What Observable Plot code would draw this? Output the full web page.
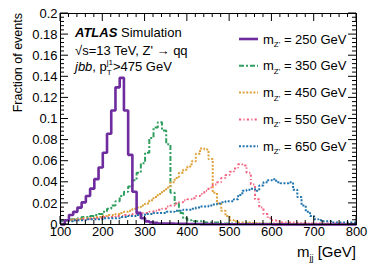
<!DOCTYPE html>
<html><head><meta charset="utf-8">
<script src="https://cdn.jsdelivr.net/npm/d3@7"></script>
<script src="https://cdn.jsdelivr.net/npm/@observablehq/plot@0.6"></script>
<style>
html,body{margin:0;padding:0;background:#fff;}
#chart svg{display:block;}
</style></head><body><div id="chart"></div>
<script>
// lower edges of the 10 GeV bins, 100..790 GeV
const binLow = d3.range(100, 800, 10);
const binHigh = 800;

const mZ250 = [0.000,0.004,0.009,0.012,0.016,0.021,0.027,0.034,0.043,0.054,
  0.068,0.086,0.108,0.130,0.139,0.108,0.066,0.031,0.011,0.006,
  0.003,0.002,0.0015,0.001,0.001,0.001,0.0008,0.0007,0.0006,0.0006,
  0.0005,0.0005,0.0005,0.0004,0.0004,0.0004,0.0004,0.0003,0.0003,0.0003,
  0.0003,0.0003,0.0003,0.0002,0.0002,0.0002,0.0002,0.0002,0.0002,0.0002,
  0.0001,0.0001,0.0001,0.0001,0,0,0,0,0,0,
  0,0,0,0,0,0,0,0,0,0];
const mZ350 = [0.004,0.004,0.005,0.005,0.006,0.007,0.007,0.008,0.009,0.010,
  0.012,0.015,0.018,0.022,0.027,0.031,0.036,0.042,0.049,0.058,
  0.068,0.082,0.092,0.097,0.089,0.076,0.030,0.020,0.011,0.006,
  0.004,0.003,0.003,0.003,0.002,0.002,0.002,0.002,0.001,0.001,
  0.001,0.001,0.001,0.001,0.001,0.001,0.0008,0.0008,0.0006,0.0006,
  0.0005,0.0005,0.0005,0.0004,0.0004,0.0004,0.0003,0.0003,0.0003,0.0003,
  0.0002,0.0002,0.0002,0.0002,0.0002,0.0002,0.0002,0.0002,0.0002,0.0002];
const mZ450 = [0.003,0.004,0.004,0.005,0.005,0.006,0.006,0.006,0.007,0.007,
  0.008,0.009,0.009,0.010,0.011,0.012,0.013,0.015,0.016,0.018,
  0.020,0.023,0.026,0.029,0.032,0.035,0.040,0.044,0.049,0.052,
  0.055,0.060,0.067,0.072,0.071,0.062,0.030,0.020,0.013,0.008,
  0.004,0.003,0.002,0.002,0.002,0.0015,0.0015,0.001,0.001,0.001,
  0.001,0.001,0.001,0.0008,0.0008,0.0008,0.0008,0.0007,0.0007,0.0007,
  0.0006,0.0006,0.0006,0.0006,0.0005,0.0005,0.0005,0.0005,0.0005,0.0005];
const mZ550 = [0.003,0.003,0.004,0.004,0.005,0.005,0.005,0.006,0.006,0.006,
  0.007,0.007,0.007,0.008,0.008,0.009,0.009,0.010,0.010,0.011,
  0.011,0.012,0.013,0.014,0.015,0.017,0.018,0.020,0.021,0.023,
  0.024,0.025,0.027,0.029,0.032,0.035,0.038,0.040,0.044,0.047,
  0.050,0.053,0.057,0.056,0.049,0.038,0.024,0.016,0.010,0.006,
  0.004,0.003,0.002,0.002,0.002,0.002,0.0015,0.0015,0.001,0.001,
  0.001,0.001,0.001,0.001,0.001,0.001,0.001,0.001,0.001,0.001];
const mZ650 = [0.003,0.003,0.003,0.004,0.004,0.004,0.005,0.005,0.005,0.005,
  0.006,0.006,0.006,0.006,0.007,0.007,0.008,0.008,0.009,0.009,
  0.010,0.010,0.011,0.011,0.011,0.012,0.012,0.013,0.013,0.014,
  0.014,0.015,0.016,0.017,0.017,0.018,0.019,0.020,0.021,0.022,
  0.022,0.024,0.028,0.032,0.033,0.034,0.032,0.037,0.040,0.042,
  0.043,0.040,0.039,0.039,0.040,0.033,0.026,0.018,0.012,0.008,
  0.005,0.004,0.003,0.003,0.002,0.002,0.002,0.002,0.002,0.002];

const massLabels = ["250", "350", "450", "550", "650"];
const seriesValues = [mZ250, mZ350, mZ450, mZ550, mZ650];
const seriesColors = ["#6e2c9e", "#2f9e5f", "#dea13a", "#f2637f", "#1f74ad"];
const seriesWidths = [2.6, 2, 2, 2, 2];
const seriesDash = [null, "5,2,2,2", "2,1.6", "2.2,2.2,1.2,2.2", "2,1.6"];

const xTicks = [100, 200, 300, 400, 500, 600, 700, 800];
const yTicks = [0, 0.02, 0.04, 0.06, 0.08, 0.1, 0.12, 0.14, 0.16, 0.18, 0.2];

const FONT = '"Liberation Sans", Arial, Helvetica, sans-serif';

function rowsFor(i) {
  const v = seriesValues[i];
  const r = binLow.map((x, k) => ({x, y: v[k]}));
  r.push({x: binHigh, y: v[v.length - 1]});
  return r;
}

const order = [1, 2, 3, 4, 0];
const chart = Plot.plot({
  width: 374, height: 268,
  marginLeft: 60, marginRight: 18, marginTop: 13, marginBottom: 44,
  x: {domain: [100, 800]},
  y: {domain: [0, 0.2]},
  style: {fontFamily: FONT, fontSize: "13px", color: "#000", background: "#fff", overflow: "visible"},
  marks: [
    ...order.map(i => Plot.line(rowsFor(i), {
      x: "x", y: "y", curve: "step-after",
      stroke: seriesColors[i], strokeWidth: seriesWidths[i],
      strokeDasharray: seriesDash[i], strokeLinejoin: "miter", strokeLinecap: "butt"
    })),
    Plot.frame({stroke: "#000", strokeWidth: 1}),
    Plot.axisX({ticks: xTicks, tickSize: 0, tickPadding: 2, tickFormat: d => String(d), label: null, fontSize: 13}),
    Plot.axisY({ticks: yTicks, tickSize: 0, tickPadding: 3, tickFormat: d => d === 0 ? "0" : String(+d.toFixed(2)), label: null, fontSize: 13})
  ]
});
document.getElementById("chart").appendChild(chart);

const svg = d3.select(chart);
const sx = chart.scale("x"), sy = chart.scale("y");
const X0 = sx.apply(100), X1 = sx.apply(800), Y0 = sy.apply(0), Y1 = sy.apply(0.2);

// inward ATLAS-style ticks on all four sides
const g = svg.append("g").attr("stroke", "#000").attr("stroke-width", 1);
const major = 8, minor = 4;
d3.range(100, 801, 20).forEach(v => {
  const px = sx.apply(v), len = (v % 100 === 0) ? major : minor;
  g.append("line").attr("x1", px).attr("x2", px).attr("y1", Y0).attr("y2", Y0 - len);
  g.append("line").attr("x1", px).attr("x2", px).attr("y1", Y1).attr("y2", Y1 + len);
});
d3.range(0, 51).forEach(k => {
  const v = k * 0.004, py = sy.apply(v), len = (k % 5 === 0) ? major : minor;
  g.append("line").attr("x1", X0).attr("x2", X0 + len).attr("y1", py).attr("y2", py);
  g.append("line").attr("x1", X1).attr("x2", X1 - len).attr("y1", py).attr("y2", py);
});

// text layer with explicit start anchoring
const tl = svg.append("g").attr("text-anchor", "start").attr("font-family", FONT).attr("fill", "#000");

// axis titles
tl.append("text").attr("transform", `translate(${X0 - 38},${Y1}) rotate(-90)`)
  .attr("text-anchor", "end").attr("font-size", 12.5)
  .text("Fraction of events");
const xl = tl.append("text").attr("x", X1).attr("y", Y0 + 33).attr("text-anchor", "end").attr("font-size", 15);
xl.append("tspan").text("m");
xl.append("tspan").attr("font-size", 9).attr("dy", 4).text("jj");
xl.append("tspan").attr("dy", -4).text(" [GeV]");

// ATLAS label block
const tx = X0 + 15;
const t1 = tl.append("text").attr("x", tx).attr("y", Y1 + 24).attr("font-size", 13);
t1.append("tspan").attr("font-weight", "bold").attr("font-style", "italic").text("ATLAS");
t1.append("tspan").text(" Simulation");
tl.append("text").attr("x", tx).attr("y", Y1 + 42).attr("font-size", 13)
  .text("\u221As=13 TeV, Z' \u2192 qq");
const t3 = tl.append("text").attr("x", tx).attr("y", Y1 + 58).attr("font-size", 13);
t3.append("tspan").attr("font-style", "italic").text("jbb");
t3.append("tspan").text(", p");
t3.append("tspan").attr("font-size", 8).attr("dy", 4).text("T");
t3.append("tspan").attr("font-size", 8).attr("dx", -5).attr("dy", -10).text("j1");
t3.append("tspan").attr("dy", 6).text(">475 GeV");

// legend
const lx = X1 - 117, ly0 = Y1 + 26, step = 26.8;
massLabels.forEach((m, i) => {
  const y = ly0 + i * step;
  tl.append("line").attr("x1", lx).attr("x2", lx + 19).attr("y1", y).attr("y2", y)
    .attr("stroke", seriesColors[i]).attr("stroke-width", seriesWidths[i])
    .attr("stroke-dasharray", seriesDash[i]);
  const t = tl.append("text").attr("x", lx + 24).attr("y", y + 4.5).attr("font-size", 13);
  t.append("tspan").text("m");
  t.append("tspan").attr("font-size", 8).attr("dy", 3.5).text("Z'");
  t.append("tspan").attr("dy", -3.5).text(` = ${m} GeV`);
});
</script></body></html>
